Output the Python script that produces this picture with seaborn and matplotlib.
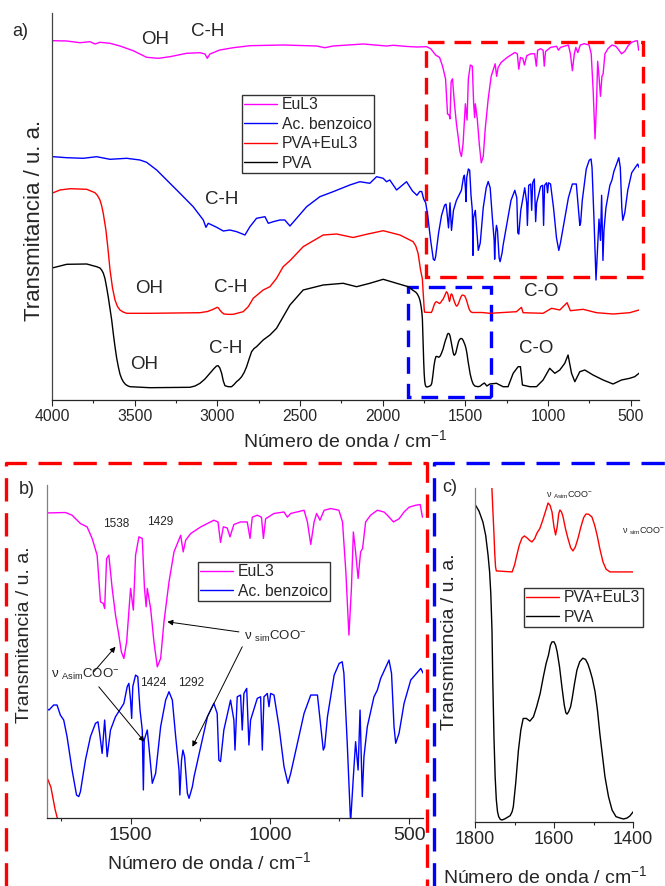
import pandas as pd
import seaborn as sns
from matplotlib import pyplot as plt
from matplotlib.lines import Line2D
from matplotlib.patches import Rectangle
from matplotlib.ticker import MultipleLocator

# espectros FTIR (numero de onda en cm-1, transmitancia en u. a. con desplazamiento)
eul3_wn = [3992, 3911, 3831, 3770, 3740, 3710, 3649, 3589, 3509, 3428,
           3357, 3287, 3186, 3105, 3075, 3061, 3045, 2985, 2904, 2803,
           2602, 2400, 2350, 2300, 2118, 1977, 1937, 1850,
           1794, 1734, 1710, 1680, 1656, 1638, 1620, 1608, 1598, 1593,
           1586, 1578, 1566, 1554, 1542, 1533, 1524, 1514, 1500, 1490,
           1482, 1470, 1458, 1450, 1444, 1440, 1428, 1416, 1404, 1392,
           1380, 1362, 1344, 1320, 1311, 1302, 1284, 1248, 1201, 1186,
           1177, 1167, 1153, 1143, 1129, 1105, 1081, 1071, 1063, 1045,
           1030, 1023, 1015, 985, 949, 937, 925, 877, 865, 853,
           841, 832, 820, 805, 781, 752, 739, 727, 716, 707,
           700, 692, 683, 674, 667, 656, 638, 614, 590, 578,
           556, 536, 518, 500, 476, 460, 452]
eul3_t = [359.3, 359, 357.3, 358.3, 356, 357.7, 356.7, 354, 349.3, 342.7,
          341.7, 343.3, 346.7, 347.3, 346, 341.7, 346, 350, 352.3, 354.3,
          355, 354, 352.3, 354, 356, 354, 354.7, 353.5,
          353.0, 353.3, 351.3, 345, 342.5, 333.8, 321.2, 286.1, 284.9, 281.1,
          318.7, 321.2, 296.2, 276.1, 261.1, 248.5, 243.5, 256, 296.2, 279.9,
          321.2, 335, 333.8, 296.2, 282.4, 296.2, 281.1, 256, 237.2, 243.5,
          271.1, 301.1, 323.7, 336.2, 323.7, 332.5, 337.5, 342.5, 347.5, 346.2,
          330.8, 342.5, 341.7, 335, 344.3, 346.2, 346.2, 333.8, 349.8, 351.3,
          349.8, 333.8, 348.6, 352.6, 353.7, 349.8, 352.6, 355, 346.2, 329.3,
          346.2, 352.6, 347.5, 355, 356.3, 355, 346.2, 308.7, 261.1, 296.2,
          338.7, 323.7, 303.7, 323.7, 326.2, 346.2, 351.3, 355, 353.7, 351.3,
          346.2, 348.6, 353.7, 357.3, 358.8, 359.3, 349.8]

benz_wn = [3992, 3911, 3811, 3730, 3649, 3548, 3468, 3428, 3367, 3307,
           3226, 3146, 3085, 3069, 3055, 3004, 2964, 2924, 2883, 2833,
           2803, 2763, 2712, 2692, 2662, 2622, 2592, 2561, 2521, 2460,
           2380, 2300, 2199, 2138, 2078, 2037, 1997, 1977, 1957, 1916,
           1856, 1820,
           1793, 1776, 1764, 1752, 1740, 1728, 1710, 1694, 1686, 1680,
           1662, 1644, 1626, 1617, 1611, 1602, 1593, 1584, 1572, 1554,
           1524, 1512, 1506, 1500, 1496, 1492, 1482, 1474, 1466, 1458,
           1454, 1451, 1440, 1434, 1422, 1410, 1392, 1374, 1362, 1350,
           1338, 1326, 1323, 1317, 1312, 1306, 1296, 1290, 1278, 1272,
           1248, 1224, 1201, 1189, 1183, 1177, 1165, 1141, 1129, 1125,
           1117, 1105, 1099, 1093, 1083, 1075, 1069, 1045, 1033, 1027,
           1021, 1009, 1003, 997, 985, 967, 949, 935, 925, 901,
           877, 853, 829, 817, 808, 803, 793, 769, 751, 740,
           734, 722, 710, 700, 692, 683, 676, 668, 662, 650,
           626, 614, 602, 572, 563, 554, 548, 536, 518, 494,
           458, 449]
benz_t = [243.3, 242.3, 241.7, 243.3, 240.7, 241.7, 240, 237.7, 230, 220,
          206.7, 193.3, 180, 172.7, 176.7, 172.7, 169, 170, 168.3, 165,
          173.3, 181.7, 183.3, 176.7, 178.3, 180, 180, 174, 181.7, 193.3,
          203.3, 208.3, 215, 218.3, 216.7, 223.3, 221.7, 218.3, 220, 210,
          218.3, 209,
          204.7, 208.5, 208.5, 200.9, 197.2, 184.7, 159.6, 140.8, 139.6, 143.3,
          167.1, 184.7, 194.7, 195.9, 187.2, 172.1, 197.2, 169.6, 189.7, 199.7,
          209.7, 222.3, 224.8, 212.2, 198.4, 222.3, 231, 229.8, 204.7, 189.7,
          144.6, 182.2, 189.7, 177.2, 149.6, 157.1, 192.2, 212.2, 218.5, 212.2,
          184.7, 159.6, 140.8, 167.1, 174.6, 169.6, 142.1, 138.3, 147.1, 154.6,
          177.2, 199.7, 209.7, 202.2, 167.1, 165.9, 189.7, 212.2, 197.2, 174.6,
          214.7, 216, 189.7, 217.2, 221, 178.4, 197.2, 213.5, 214.7, 174.6,
          214.7, 217.2, 207.2, 217.2, 216, 192.2, 162.1, 149.6, 157.1, 179.7,
          202.2, 216, 216, 192.2, 174.6, 177.2, 199.7, 231, 239.8, 241,
          232.3, 179.7, 120, 154.6, 180.9, 159.6, 204.7, 139.6, 169.6, 192.2,
          214.7, 219.7, 228.5, 242.3, 232.3, 192.2, 179.7, 187.2, 209.7, 227.3,
          236, 232.3]

pvaeu_wn = [3992, 3952, 3891, 3790, 3740, 3725, 3710, 3700, 3690, 3674,
            3662, 3649, 3634, 3619, 3604, 3589, 3570, 3548, 3408, 3105,
            3060, 3035, 3015, 3001, 2993, 2985, 2972, 2960, 2930, 2904,
            2844, 2813, 2783, 2723, 2682, 2642, 2602, 2561, 2481, 2360,
            2279, 2179, 2098, 1997, 1896, 1856, 1816, 1800, 1786, 1771,
            1760, 1757, 1754, 1752, 1750, 1748, 1746, 1706, 1700, 1694,
            1688, 1681, 1675, 1668, 1662, 1656, 1649, 1643, 1636, 1630,
            1622, 1615, 1610, 1605, 1600, 1596, 1592, 1588, 1585, 1581,
            1577, 1571, 1565, 1558, 1552, 1546, 1539, 1532, 1525, 1519,
            1512, 1504, 1497, 1491, 1484, 1476, 1468, 1458, 1400, 1352,
            1191, 1161, 1151, 1030, 979, 929, 885, 865, 788, 707,
            607, 506, 450]
pvaeu_t = [207.3, 210, 211.3, 210.7, 207.3, 204.5, 200, 194.5, 186.7, 170,
           152, 130, 112, 100, 93.5, 90, 88, 86.7, 86.7, 87.3,
           88.5, 90, 91.5, 92.7, 92, 90, 87.5, 86, 85.6, 85.7,
           88.3, 93.3, 101.7, 110, 113.3, 121.7, 133.3, 139.3, 153.3, 165,
           166, 162.5, 165.7, 169.3, 165, 161.7, 158.3, 154, 146.7, 130,
           121, 112, 104, 99, 93, 89, 87.8, 87.5, 89.5, 92.6,
           95.5, 97.7, 98.3, 97.7, 97, 96.5, 97.5, 99.2, 100.5, 102.5,
           105.5, 108.2, 107.5, 105.5, 101, 98.6, 101, 105, 106.1, 105.5,
           104, 100.5, 97.7, 94.8, 93.8, 95, 97.7, 101, 103.8, 104.9,
           104.8, 104, 101.5, 98.6, 94.5, 90.5, 88.3, 87.5, 87.5, 86.7,
           88.3, 92.7, 87.3, 86.7, 91.7, 90, 97.3, 89.3, 90.7, 87.3,
           86, 87.3, 90]

pva_wn = [3992, 3911, 3790, 3730, 3710, 3700, 3690, 3680, 3670, 3660,
          3650, 3639, 3629, 3619, 3609, 3599, 3589, 3579, 3569, 3555,
          3540, 3528, 3408, 3166, 3135, 3105, 3075, 3045, 3020, 3005,
          2995, 2985, 2974, 2964, 2954, 2934, 2914, 2899, 2884, 2868,
          2853, 2838, 2823, 2808, 2793, 2778, 2763, 2723, 2682, 2642,
          2602, 2561, 2481, 2360, 2239, 2158, 2078, 1997, 1916, 1846,
          1820, 1800, 1790, 1780, 1773, 1767, 1763, 1760, 1757, 1755,
          1752, 1749, 1746, 1743, 1740, 1736, 1732, 1725, 1718, 1711,
          1706, 1703, 1697, 1690, 1684, 1678, 1670, 1661, 1652, 1644,
          1635, 1627, 1620, 1614, 1609, 1605, 1600, 1596, 1592, 1586,
          1580, 1574, 1570, 1567, 1563, 1558, 1554, 1548, 1542, 1535,
          1527, 1520, 1514, 1509, 1503, 1496, 1490, 1484, 1477, 1471,
          1462, 1453, 1443, 1433, 1424, 1415, 1408, 1400, 1385, 1370,
          1352, 1312, 1272, 1242, 1211, 1181, 1167, 1155, 1110, 1070,
          1030, 990, 959, 929, 899, 879, 858, 838, 808, 778,
          728, 667, 607, 556, 506, 476, 450]
pva_t = [132.3, 135.7, 136, 133.3, 132, 130, 127, 121.7, 113, 103.3,
         92, 80, 66, 53.3, 42, 33.3, 26, 21.5, 18.3, 15.5,
         14, 13.3, 12.3, 12.7, 14, 16.7, 21, 26.7, 31.5, 34,
         34.3, 32, 26.7, 19, 14.3, 13.3, 13.3, 15.5, 18.3, 20.5,
         23.3, 27.5, 33.3, 41, 48.3, 51.5, 53.3, 60, 65, 71.7,
         83.3, 95, 110, 115, 116.7, 113.3, 116.7, 120.7, 116.7, 113.3,
         110, 107.8, 105.8, 102.5, 98.5, 92.6, 87.5, 81, 70, 55,
         38, 26, 19, 15.5, 14, 13.2, 13, 13.3, 13.8, 14.3,
         15.5, 17, 24, 34, 40, 43.5, 43.5, 42.7, 44, 47,
         51, 56, 60, 62.5, 65.5, 66.5, 66.5, 65.5, 63.5, 59,
         53, 47.5, 45.2, 44.8, 45.5, 47, 49.5, 54, 58, 60.5,
         61.6, 61.2, 59.8, 58, 55.5, 51.5, 46, 39, 32, 26,
         20, 16, 14, 13.6, 13.3, 13.6, 14.2, 15.4, 17, 14,
         16, 16.7, 13.3, 13.3, 26.7, 33.3, 33.3, 15, 13.3, 13.3,
         20, 31.7, 26.7, 30, 36.7, 45, 26.7, 18.3, 28.3, 30,
         25, 20, 16, 20, 21.7, 23.3, 26.7]

muestras = ['EuL3', 'Ac. benzoico', 'PVA+EuL3', 'PVA']
colores = ['#ff00ff', '#0000ff', '#ff0000', '#000000']

df = pd.concat([
    pd.DataFrame({'wn': eul3_wn, 't': eul3_t, 'muestra': 'EuL3'}),
    pd.DataFrame({'wn': benz_wn, 't': benz_t, 'muestra': 'Ac. benzoico'}),
    pd.DataFrame({'wn': pvaeu_wn, 't': pvaeu_t, 'muestra': 'PVA+EuL3'}),
    pd.DataFrame({'wn': pva_wn, 't': pva_t, 'muestra': 'PVA'}),
])

sns.set_style("ticks")
plt.rcParams['font.family'] = ['Liberation Sans', 'DejaVu Sans']
plt.rcParams['mathtext.fontset'] = 'custom'
plt.rcParams['mathtext.rm'] = 'Liberation Sans'
plt.rcParams['mathtext.it'] = 'Liberation Sans:italic'
plt.rcParams['mathtext.bf'] = 'Liberation Sans:bold'

W, H = 665, 886
fig = plt.figure(figsize=(W / 100, H / 100), dpi=100)


def axes_px(l, t, r, b):
    return fig.add_axes([l / W, 1 - b / H, (r - l) / W, (b - t) / H])


def panel(ax, xlim, ylim, major, minor, ticksize, lc):
    sns.lineplot(data=df, x='wn', y='t', hue='muestra', hue_order=muestras,
                 palette=colores, estimator=None, sort=True, lw=1.0,
                 legend=False, ax=ax)
    ax.set_xlim(*xlim)
    ax.set_ylim(*ylim)
    ax.set_yticks([])
    ax.xaxis.set_major_locator(MultipleLocator(major))
    ax.xaxis.set_minor_locator(MultipleLocator(minor))
    ax.tick_params(axis='x', which='major', direction='out', length=4.5,
                   width=0.8, labelsize=ticksize, pad=2)
    ax.tick_params(axis='x', which='minor', direction='out', length=2.5, width=0.8)
    sns.despine(ax=ax)
    ax.spines['left'].set_color(lc)
    ax.spines['left'].set_linewidth(0.9)
    ax.spines['bottom'].set_linewidth(0.9)
    ax.set_xlabel('Número de onda / cm$^{-1}$', fontsize=14)
    ax.set_ylabel('Transmitancia / u. a.', fontsize=14)


def leyenda(ax, nombres, pos):
    h = [Line2D([], [], color=colores[muestras.index(n)], lw=1.0) for n in nombres]
    leg = ax.legend(h, nombres, loc='upper left', bbox_to_anchor=pos,
                    borderaxespad=0, fancybox=False, edgecolor='#333333',
                    fontsize=11.3, handlelength=2.1, handletextpad=0.3,
                    borderpad=0.15, labelspacing=0.28, framealpha=1)
    leg.get_frame().set_linewidth(1.0)


sim_lbl = 'ν ${}_{\\mathrm{sim}}$COO${}^{-}$'
asim_lbl = 'ν ${}_{\\mathrm{Asim}}$COO${}^{-}$'

# a) espectro completo
ax1 = axes_px(52, 13, 639, 400)
panel(ax1, (4000, 450), (0, 387), 500, 250, 11.3, '#444444')
ax1.yaxis.label.set_fontsize(16)
ax1.xaxis.set_label_coords(0.499, -0.075)
ax1.yaxis.set_label_coords(-0.012, 0.465)
leyenda(ax1, muestras, (0.3237, 0.788))
for txt, x, y in [('OH', 3377, 360), ('C-H', 3057, 368), ('C-H', 2972, 200),
                  ('OH', 3414, 111), ('C-H', 2918, 112), ('OH', 3444, 35),
                  ('C-H', 2948, 51), ('C-O', 1044, 108), ('C-O', 1074, 51)]:
    ax1.text(x, y, txt, fontsize=13.5, ha='center', va='center')
ax1.add_patch(Rectangle((425, 123.3), 1741 - 425, 358.3 - 123.3, fill=False,
                        ec='#ff0000', lw=2.4, ls=(0, (5, 3)), clip_on=False))
ax1.add_patch(Rectangle((1348, 3.3), 1846 - 1348, 113.3 - 3.3, fill=False,
                        ec='#0000ff', lw=2.4, ls=(0, (5, 3)), clip_on=False))

# b) region de la huella
ax2 = axes_px(47, 485, 423, 818)
panel(ax2, (1800, 450), (123.5, 374), 500, 250, 14, '#808080')
ax2.xaxis.set_label_coords(0.431, -0.1)
ax2.yaxis.set_label_coords(-0.037, 0.55)
leyenda(ax2, ['EuL3', 'Ac. benzoico'], (0.4016, 0.7688))
for txt, x, y in [('1538', 1550, 344.5), ('1429', 1392, 346),
                  ('1424', 1419, 225), ('1292', 1283, 225)]:
    ax2.text(x, y, txt, fontsize=8.5, ha='center', va='center')
ax2.text(1094, 260.3, sim_lbl, fontsize=9.5, ha='left', va='center')
ax2.text(1787, 231.7, asim_lbl, fontsize=9.5, ha='left', va='center')
for tail, head in [((1111, 263.5), (1368, 271.1)), ((1099, 252.3), (1278, 177.1)),
                   ((1632, 233.5), (1554, 252.3)), ((1614, 222.2), (1450, 180.8))]:
    ax2.annotate('', xy=head, xytext=tail,
                 arrowprops=dict(arrowstyle='-|>', color='black', lw=0.7,
                                 mutation_scale=8, shrinkA=0, shrinkB=0))

# c) PVA vs PVA+EuL3
ax3 = axes_px(475, 488, 633, 822)
panel(ax3, (1800, 1400), (12.4, 112.7), 200, 100, 13, '#808080')
ax3.xaxis.set_label_coords(0.443, -0.128)
ax3.yaxis.set_label_coords(-0.108, 0.539)
leyenda(ax3, ['PVA+EuL3', 'PVA'], (0.31, 0.7006))
ax3.text(1620, 110.6, asim_lbl, fontsize=6.5, ha='left', va='center')
ax3.text(1428, 99.8, sim_lbl, fontsize=6.5, ha='left', va='center')

# etiquetas de los paneles
fig.text(20 / W, 1 - 32 / H, 'a)', fontsize=13, ha='center', va='center')
fig.text(27 / W, 1 - 490 / H, 'b)', fontsize=13, ha='center', va='center')
fig.text(450 / W, 1 - 488 / H, 'c)', fontsize=13, ha='center', va='center')

# marcos discontinuos de las ampliaciones
fig.add_artist(Line2D([6 / W, 6 / W, 427 / W, 427 / W],
                      [0, 1 - 463 / H, 1 - 463 / H, 0],
                      color='#ff0000', lw=2.4, ls=(0, (7, 3.5))))
fig.add_artist(Line2D([434 / W, 434 / W, 1],
                      [0, 1 - 463 / H, 1 - 463 / H],
                      color='#0000ff', lw=2.4, ls=(0, (7, 3.5))))

plt.savefig('out.png', dpi=100)
